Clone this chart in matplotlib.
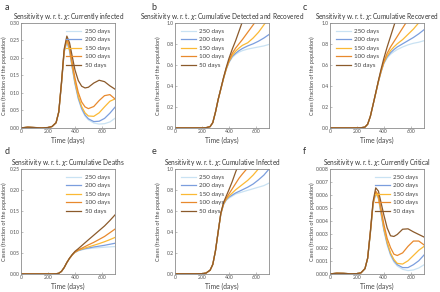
import numpy as np
import matplotlib
matplotlib.use("Agg")
import matplotlib.pyplot as plt

plt.rcParams['font.family'] = ['Lato', 'DejaVu Sans']
plt.rcParams['mathtext.fontset'] = 'dejavusans'

# ── data ───────────────────────────────────────────
days = [0, 50, 100, 150, 200, 230, 260, 280, 300, 320, 340, 360, 380,
        400, 425, 450, 475, 500, 540, 580, 620, 660, 700]
labels = ["250 days", "200 days", "150 days", "100 days", "50 days"]
colors = ["#c9e2f3", "#7b9ede", "#fbb934", "#e8892d", "#8b5a2b"]

infected = [
    [0.000, 0.002, 0.001, 0.000, 0.001, 0.004, 0.015, 0.045, 0.125, 0.215, 0.245, 0.218, 0.170,
     0.125, 0.082, 0.053, 0.034, 0.023, 0.014, 0.011, 0.012, 0.017, 0.028],
    [0.000, 0.002, 0.001, 0.000, 0.001, 0.004, 0.015, 0.045, 0.126, 0.217, 0.248, 0.221, 0.173,
     0.128, 0.085, 0.056, 0.037, 0.026, 0.018, 0.019, 0.027, 0.042, 0.060],
    [0.000, 0.002, 0.001, 0.000, 0.001, 0.004, 0.015, 0.046, 0.127, 0.219, 0.251, 0.225, 0.177,
     0.133, 0.090, 0.061, 0.043, 0.034, 0.033, 0.043, 0.060, 0.076, 0.083],
    [0.000, 0.002, 0.001, 0.000, 0.001, 0.004, 0.015, 0.046, 0.128, 0.221, 0.255, 0.231, 0.185,
     0.143, 0.101, 0.074, 0.060, 0.055, 0.061, 0.078, 0.092, 0.095, 0.082],
    [0.000, 0.002, 0.001, 0.000, 0.001, 0.004, 0.015, 0.046, 0.130, 0.225, 0.262, 0.243, 0.204,
     0.166, 0.135, 0.119, 0.114, 0.116, 0.128, 0.136, 0.132, 0.120, 0.110],
]

detected_recovered = [
    [0, 0, 0, 0, 0, 0.002, 0.012, 0.05, 0.15, 0.27, 0.37, 0.47, 0.555,
     0.62, 0.67, 0.70, 0.72, 0.735, 0.75, 0.76, 0.77, 0.78, 0.795],
    [0, 0, 0, 0, 0, 0.002, 0.012, 0.05, 0.15, 0.27, 0.37, 0.47, 0.56,
     0.625, 0.68, 0.71, 0.735, 0.755, 0.78, 0.80, 0.825, 0.855, 0.89],
    [0, 0, 0, 0, 0, 0.002, 0.012, 0.05, 0.15, 0.27, 0.37, 0.47, 0.56,
     0.63, 0.69, 0.73, 0.76, 0.785, 0.81, 0.855, 0.91, 0.98, 1.05],
    [0, 0, 0, 0, 0, 0.002, 0.012, 0.05, 0.15, 0.27, 0.37, 0.475, 0.565,
     0.64, 0.71, 0.76, 0.80, 0.84, 0.91, 0.98, 1.05, 1.12, 1.19],
    [0, 0, 0, 0, 0, 0.002, 0.012, 0.05, 0.15, 0.27, 0.375, 0.48, 0.575,
     0.66, 0.75, 0.83, 0.92, 1.01, 1.15, 1.30, 1.45, 1.60, 1.75],
]

recovered = [
    [0, 0, 0, 0, 0, 0.001, 0.008, 0.035, 0.11, 0.22, 0.33, 0.44, 0.53,
     0.61, 0.665, 0.70, 0.725, 0.745, 0.77, 0.79, 0.805, 0.815, 0.83],
    [0, 0, 0, 0, 0, 0.001, 0.008, 0.035, 0.11, 0.22, 0.33, 0.44, 0.535,
     0.615, 0.675, 0.715, 0.745, 0.77, 0.80, 0.83, 0.86, 0.895, 0.935],
    [0, 0, 0, 0, 0, 0.001, 0.008, 0.035, 0.11, 0.22, 0.33, 0.44, 0.54,
     0.62, 0.685, 0.735, 0.77, 0.80, 0.84, 0.89, 0.94, 1.00, 1.06],
    [0, 0, 0, 0, 0, 0.001, 0.008, 0.035, 0.11, 0.22, 0.33, 0.445, 0.545,
     0.63, 0.71, 0.77, 0.82, 0.87, 0.95, 1.03, 1.11, 1.19, 1.27],
    [0, 0, 0, 0, 0, 0.001, 0.008, 0.035, 0.11, 0.22, 0.335, 0.45, 0.56,
     0.66, 0.77, 0.87, 0.97, 1.07, 1.20, 1.35, 1.50, 1.65, 1.80],
]

deaths = [
    [0, 0, 0, 0, 0, 0, 0.0003, 0.0015, 0.006, 0.015, 0.027, 0.037, 0.045,
     0.051, 0.055, 0.057, 0.059, 0.060, 0.0615, 0.0625, 0.0635, 0.0643, 0.065],
    [0, 0, 0, 0, 0, 0, 0.0003, 0.0015, 0.006, 0.015, 0.027, 0.037, 0.045,
     0.051, 0.0555, 0.058, 0.060, 0.0615, 0.064, 0.066, 0.068, 0.0705, 0.073],
    [0, 0, 0, 0, 0, 0, 0.0003, 0.0015, 0.006, 0.015, 0.027, 0.037, 0.045,
     0.0515, 0.056, 0.059, 0.0615, 0.064, 0.068, 0.072, 0.0765, 0.0815, 0.087],
    [0, 0, 0, 0, 0, 0, 0.0003, 0.0015, 0.006, 0.015, 0.027, 0.037, 0.0455,
     0.052, 0.057, 0.061, 0.065, 0.069, 0.075, 0.082, 0.089, 0.098, 0.107],
    [0, 0, 0, 0, 0, 0, 0.0003, 0.0015, 0.006, 0.015, 0.027, 0.0375, 0.046,
     0.0535, 0.060, 0.067, 0.074, 0.081, 0.092, 0.103, 0.114, 0.127, 0.141],
]

cum_infected = [
    [0, 0.001, 0.001, 0.001, 0.002, 0.008, 0.035, 0.09, 0.22, 0.40, 0.57, 0.66, 0.70,
     0.72, 0.74, 0.76, 0.77, 0.78, 0.795, 0.81, 0.825, 0.84, 0.865],
    [0, 0.001, 0.001, 0.001, 0.002, 0.008, 0.035, 0.09, 0.22, 0.40, 0.57, 0.66, 0.705,
     0.73, 0.75, 0.77, 0.785, 0.80, 0.825, 0.855, 0.895, 0.94, 1.00],
    [0, 0.001, 0.001, 0.001, 0.002, 0.008, 0.035, 0.09, 0.22, 0.40, 0.575, 0.665, 0.71,
     0.74, 0.77, 0.80, 0.825, 0.85, 0.89, 0.94, 1.00, 1.06, 1.12],
    [0, 0.001, 0.001, 0.001, 0.002, 0.008, 0.035, 0.09, 0.22, 0.40, 0.575, 0.67, 0.72,
     0.76, 0.81, 0.86, 0.91, 0.95, 1.01, 1.08, 1.15, 1.22, 1.29],
    [0, 0.001, 0.001, 0.001, 0.002, 0.008, 0.035, 0.09, 0.22, 0.40, 0.58, 0.68, 0.74,
     0.80, 0.88, 0.97, 1.05, 1.13, 1.25, 1.37, 1.49, 1.61, 1.73],
]

critical = [
    [0, 0.00005, 0.00004, 0.00001, 0.00002, 0.00008, 0.0004, 0.0012, 0.0031, 0.0052, 0.0061, 0.0057, 0.0045,
     0.0033, 0.0022, 0.0014, 0.0009, 0.0006, 0.00035, 0.00025, 0.0003, 0.00045, 0.0007],
    [0, 0.00005, 0.00004, 0.00001, 0.00002, 0.00008, 0.0004, 0.0012, 0.0031, 0.0053, 0.0062, 0.0058, 0.0046,
     0.0034, 0.0023, 0.0015, 0.0010, 0.0007, 0.00048, 0.00048, 0.0007, 0.0010, 0.00145],
    [0, 0.00005, 0.00004, 0.00001, 0.00002, 0.00008, 0.0004, 0.0012, 0.0031, 0.0053, 0.0062, 0.0058, 0.0047,
     0.0035, 0.0024, 0.0016, 0.0011, 0.0008, 0.00075, 0.0010, 0.0014, 0.0018, 0.0021],
    [0, 0.00005, 0.00004, 0.00001, 0.00002, 0.00008, 0.0004, 0.0012, 0.0032, 0.0054, 0.0063, 0.0060, 0.0049,
     0.0038, 0.0027, 0.0020, 0.0015, 0.0014, 0.0016, 0.0021, 0.0025, 0.0025, 0.0022],
    [0, 0.00005, 0.00004, 0.00001, 0.00002, 0.00008, 0.0004, 0.0012, 0.0032, 0.0055, 0.00655, 0.0063, 0.0054,
     0.0045, 0.0035, 0.0029, 0.00285, 0.0030, 0.0034, 0.00343, 0.0032, 0.0030, 0.0028],
]

panels = [
    ("a", "Currently infected", infected, 0.30, np.arange(0, 0.31, 0.05), "%.2f", "upper right"),
    ("b", "Cumulative Detected and Recovered", detected_recovered, 1.0, np.arange(0, 1.01, 0.2), "%.1f", "upper left"),
    ("c", "Cumulative Recovered", recovered, 1.0, np.arange(0, 1.01, 0.2), "%.1f", "upper left"),
    ("d", "Cumulative Deaths", deaths, 0.25, np.arange(0, 0.26, 0.05), "%.2f", "upper right"),
    ("e", "Cumulative Infected", cum_infected, 1.0, np.arange(0, 1.01, 0.2), "%.1f", "upper left"),
    ("f", "Currently Critical", critical, 0.008, np.arange(0, 0.0081, 0.001), "%.3f", "upper right"),
]

# ── layout ─────────────────────────────────────────
fig = plt.figure(figsize=(4.4, 2.92), dpi=100)
lefts = [0.048, 0.398, 0.750]
bottoms = [0.562, 0.062]
w, h = 0.214, 0.360
letter_x = [0.010, 0.344, 0.688]
letter_y = [0.990, 0.495]
gray = "#8c8c8c"

for i, (letter, name, series, ymax, yt, fmt, loc) in enumerate(panels):
    r, c = divmod(i, 3)
    ax = fig.add_axes([lefts[c], bottoms[r], w, h])
    for vals, lab, col in zip(series, labels, colors):
        ax.plot(days, vals, color=col, lw=0.9, label=lab)
    ax.set_xlim(0, 700)
    ax.set_ylim(0, ymax)
    ax.set_xticks([0, 200, 400, 600])
    ax.set_yticks(yt)
    ax.set_yticklabels([fmt % v for v in yt])
    for s in ax.spines.values():
        s.set_color(gray)
        s.set_linewidth(0.6)
    ax.tick_params(direction="in", length=1.5, width=0.4, color=gray,
                   labelsize=3.7, labelcolor="#555555", pad=1.0)
    ax.set_xlabel("Time (days)", fontsize=4.9, color="#444444", labelpad=1.5)
    ax.set_ylabel("Cases (fraction of the population)", fontsize=3.9,
                  color="#444444")
    ax.yaxis.set_label_coords(-0.155, 0.5)
    ax.set_title(r"Sensitivity w. r. t. $\chi$: " + name, fontsize=4.7,
                 color="#333333", pad=2.5)
    ax.legend(loc=loc, frameon=False, fontsize=4.5, handlelength=2.4,
              labelspacing=0.5, borderaxespad=0.5, handletextpad=0.6,
              labelcolor="#444444")
    fig.text(letter_x[c], letter_y[r], letter, fontsize=6.5, color="#333333",
             va="top", ha="left")

fig.savefig("out.png", dpi=100)
